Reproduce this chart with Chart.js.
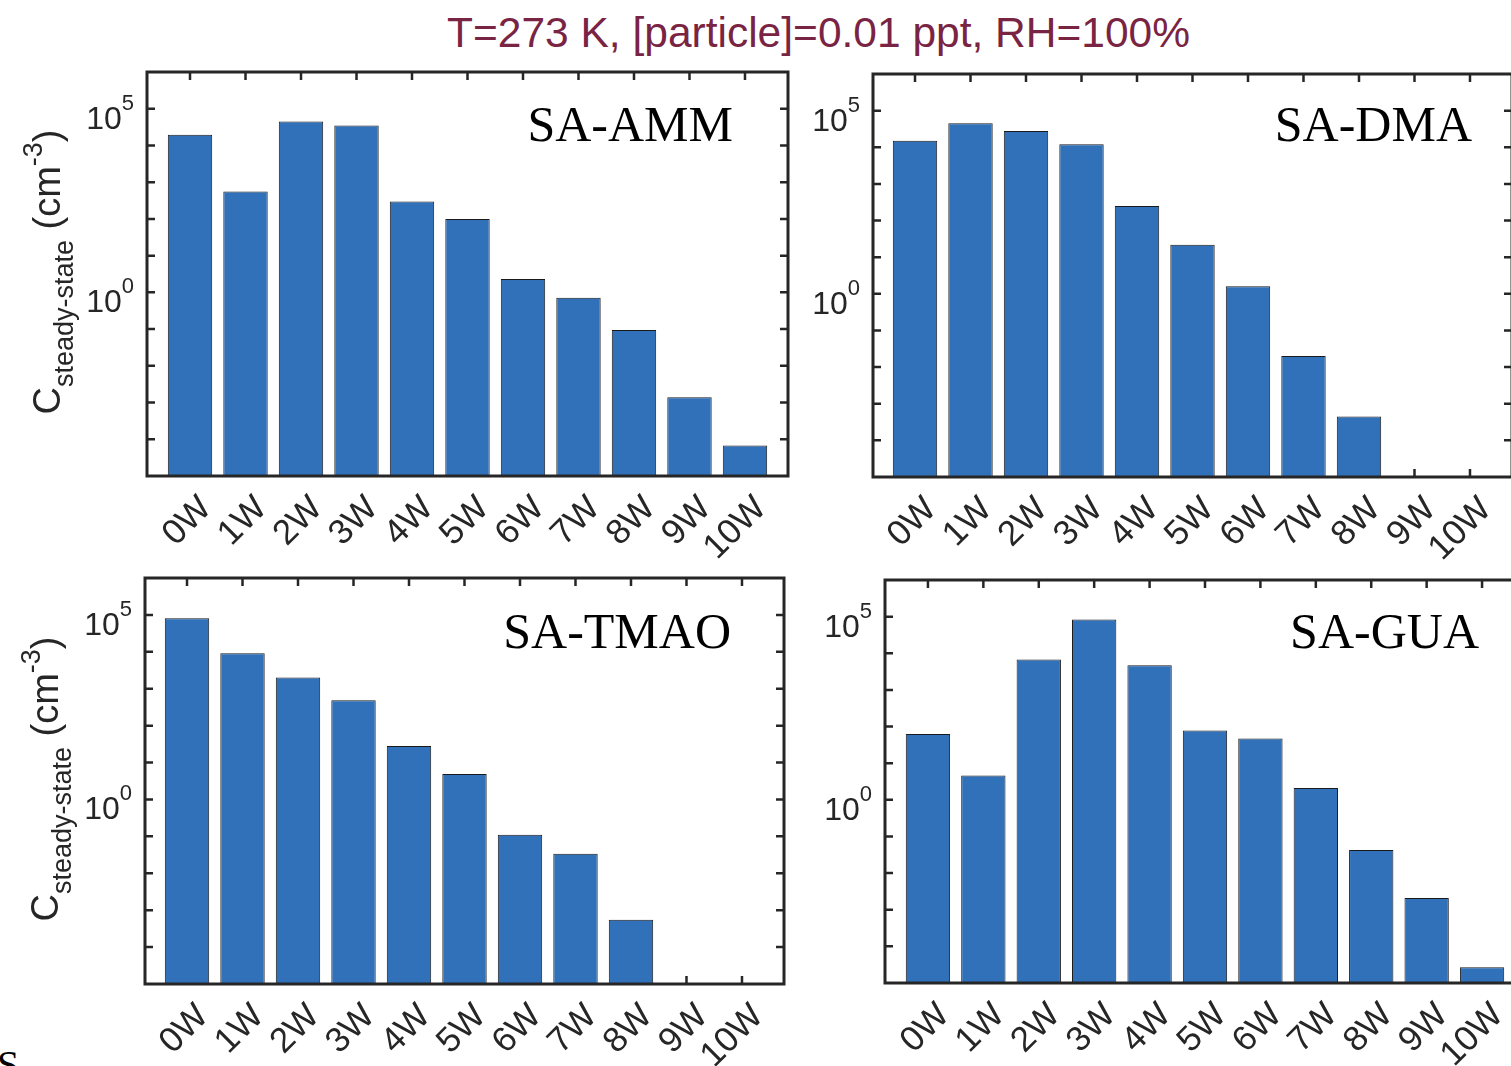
<!DOCTYPE html>
<html>
<head>
<meta charset="utf-8">
<script src="https://cdn.jsdelivr.net/npm/chart.js@4.4.1/dist/chart.umd.min.js"></script>
<style>
  html, body { margin: 0; padding: 0; background: #fff; overflow: hidden; width: 1511px; height: 1066px; }
  canvas { position: absolute; }
  #title {
    position: absolute; left: 318px; top: 12px; width: 1001px; text-align: center;
    font: 42.5px/42px "Liberation Sans", Arial, sans-serif; color: #7a2444; white-space: nowrap;
  }
  #stray {
    position: absolute; left: -3px; top: 1045px;
    font: 40px/40px "Liberation Serif", "Times New Roman", serif; color: #000;
  }
</style>
</head>
<body>
<div id="title">T=273 K, [particle]=0.01 ppt, RH=100%</div>
<div id="stray">S</div>
<canvas id="pAMM" width="800" height="500" style="left:0px;top:60px"></canvas>
<canvas id="pDMA" width="740" height="500" style="left:800px;top:60px"></canvas>
<canvas id="pTMAO" width="800" height="506" style="left:0px;top:560px"></canvas>
<canvas id="pGUA" width="740" height="506" style="left:800px;top:560px"></canvas>
<script>
// ---- data (log axis) ----
var categories = ['0W', '1W', '2W', '3W', '4W', '5W', '6W', '7W', '8W', '9W', '10W'];

var ammValues  = [1.95e4, 5.6e2, 4.5e4, 3.5e4, 3.0e2, 1.0e2, 2.3, 0.71, 0.095, 1.4e-3, 6.8e-5];
var dmaValues  = [1.5e4, 4.5e4, 2.8e4, 1.2e4, 2.5e2, 22, 1.6, 0.020, 4.5e-4, null, null];
var tmaoValues = [8.1e4, 9.1e3, 2.0e3, 4.9e2, 28, 4.9, 0.11, 0.034, 5.5e-4, null, null];
var guaValues  = [63, 4.6, 6.8e3, 8.3e4, 4.7e3, 78, 47, 2.1, 0.043, 2.1e-3, 2.7e-5];

var yTickExponents  = [-4, -3, -2, -1, 0, 1, 2, 3, 4, 5];   // tick marks, one per decade
var yLabelExponents = [0, 5];                                // only these carry a label
var yMin = 1e-5, yMax = 1e6;

// ---- style ----
var AXIS = '#262626';
var BAR_FILL = '#3171b9';
var SANS = '"Liberation Sans", Arial, sans-serif';
var SERIF = '"Liberation Serif", "Times New Roman", serif';

// MATLAB-like box: frame, inward ticks on all four sides, 10^n labels,
// panel name and (optionally) the rotated y title with sub/superscripts.
var matlabAxes = {
  id: 'matlabAxes',
  beforeDatasetsDraw: function(chart) {
    var ctx = chart.ctx, a = chart.chartArea, x = chart.scales.x, y = chart.scales.y;
    var tl = 8;
    ctx.save();
    ctx.strokeStyle = AXIS;
    ctx.lineWidth = 2.5;
    ctx.beginPath();
    categories.forEach(function(c, i) {
      var px = x.getPixelForValue(i);
      ctx.moveTo(px, a.top); ctx.lineTo(px, a.top + tl);
      ctx.moveTo(px, a.bottom); ctx.lineTo(px, a.bottom - tl);
    });
    yTickExponents.forEach(function(e) {
      var py = y.getPixelForValue(Math.pow(10, e));
      ctx.moveTo(a.left, py); ctx.lineTo(a.left + tl, py);
      ctx.moveTo(a.right, py); ctx.lineTo(a.right - tl, py);
    });
    ctx.stroke();
    ctx.restore();
  },
  afterDatasetsDraw: function(chart, args, opts) {
    var ctx = chart.ctx, a = chart.chartArea, y = chart.scales.y;
    ctx.save();

    // frame
    ctx.strokeStyle = AXIS;
    ctx.lineWidth = 3;
    ctx.strokeRect(a.left, a.top, a.right - a.left, a.bottom - a.top);

    // y tick labels 10^n
    ctx.fillStyle = AXIS;
    ctx.textBaseline = 'alphabetic';
    ctx.textAlign = 'left';
    yLabelExponents.forEach(function(e) {
      var py = y.getPixelForValue(Math.pow(10, e));
      ctx.font = '22px ' + SANS;
      var sup = String(e), supW = ctx.measureText(sup).width;
      ctx.font = '32px ' + SANS;
      var base = '10', baseW = ctx.measureText(base).width;
      var xEnd = a.left - 13;
      ctx.fillText(base, xEnd - supW - baseW, py + 20);
      ctx.font = '22px ' + SANS;
      ctx.fillText(sup, xEnd - supW, py + 1);
    });

    // panel name
    ctx.fillStyle = '#000';
    ctx.font = '50px ' + SERIF;
    ctx.textAlign = 'right';
    ctx.fillText(opts.label, a.right - opts.labelInset, a.top + opts.labelBase);

    // y title: C_{steady-state} (cm^{-3})
    if (opts.yTitle) {
      var big = '38px ' + SANS, small = '27px ' + SANS;
      var parts = [
        { t: 'C', f: big, dy: 0 },
        { t: 'steady-state', f: small, dy: 13 },
        { t: ' (cm', f: big, dy: 0 },
        { t: '-3', f: small, dy: -18 },
        { t: ')', f: big, dy: 0 }
      ];
      var total = 0;
      parts.forEach(function(p) { ctx.font = p.f; p.w = ctx.measureText(p.t).width; total += p.w; });
      ctx.translate(opts.titleX, (a.top + a.bottom) / 2 - 2);
      ctx.rotate(-Math.PI / 2);
      ctx.textAlign = 'left';
      ctx.fillStyle = AXIS;
      var cx = -total / 2;
      parts.forEach(function(p) {
        ctx.font = p.f;
        ctx.fillText(p.t, cx, p.dy);
        cx += p.w;
      });
    }
    ctx.restore();
  }
};

function makePanel(id, values, p) {
  var canvas = document.getElementById(id);
  var top = parseFloat(canvas.style.top), left = parseFloat(canvas.style.left);
  var xAxisHeight = canvas.height - (p.box.b - top);

  return new Chart(canvas.getContext('2d'), {
    type: 'bar',
    data: {
      datasets: [{
        data: values.map(function(v, i) { return { x: i, y: v }; }),
        backgroundColor: BAR_FILL,
        borderColor: '#1a1a1a',
        borderWidth: 1,
        borderSkipped: false,
        categoryPercentage: 1.0,
        barPercentage: 0.8
      }]
    },
    plugins: [matlabAxes],
    options: {
      responsive: false,
      animation: false,
      events: [],
      layout: {
        padding: {
          left: p.box.l - left,
          top: p.box.t - top,
          right: (left + canvas.width) - p.box.r,
          bottom: 0
        }
      },
      plugins: {
        legend: { display: false },
        tooltip: { enabled: false },
        matlabAxes: {
          label: p.label, labelInset: p.labelInset, labelBase: p.labelBase,
          yTitle: !!p.yTitle, titleX: p.titleX
        }
      },
      scales: {
        x: {
          type: 'linear',
          min: p.xMin,
          max: p.xMax,
          offset: false,
          grid: { display: false, drawTicks: false },
          border: { display: false },
          afterBuildTicks: function(s) {
            s.ticks = categories.map(function(c, i) { return { value: i }; });
          },
          afterFit: function(s) {
            s.height = xAxisHeight;
            s.paddingLeft = 0;
            s.paddingRight = 0;
          },
          ticks: {
            autoSkip: false,
            minRotation: 45,
            maxRotation: 45,
            padding: 12,
            labelOffset: 16,
            color: AXIS,
            font: { family: SANS, size: 35 },
            callback: function(v) { return categories[v]; }
          }
        },
        y: {
          type: 'logarithmic',
          min: yMin,
          max: yMax,
          display: false
        }
      }
    }
  });
}

makePanel('pAMM', ammValues, {
  box: { l: 147, t: 72, r: 788, b: 476 }, xMin: -0.775, xMax: 10.775,
  label: 'SA-AMM', labelInset: 55, labelBase: 69, yTitle: true, titleX: 60
});
makePanel('pDMA', dmaValues, {
  box: { l: 873, t: 74, r: 1512, b: 477 }, xMin: -0.757, xMax: 10.757,
  label: 'SA-DMA', labelInset: 40, labelBase: 67
});
makePanel('pTMAO', tmaoValues, {
  box: { l: 145, t: 578, r: 784, b: 984 }, xMin: -0.757, xMax: 10.757,
  label: 'SA-TMAO', labelInset: 53, labelBase: 70, yTitle: true, titleX: 58
});
makePanel('pGUA', guaValues, {
  box: { l: 885, t: 580, r: 1525, b: 983 }, xMin: -0.775, xMax: 10.775,
  label: 'SA-GUA', labelInset: 46, labelBase: 68
});
</script>
</body>
</html>
